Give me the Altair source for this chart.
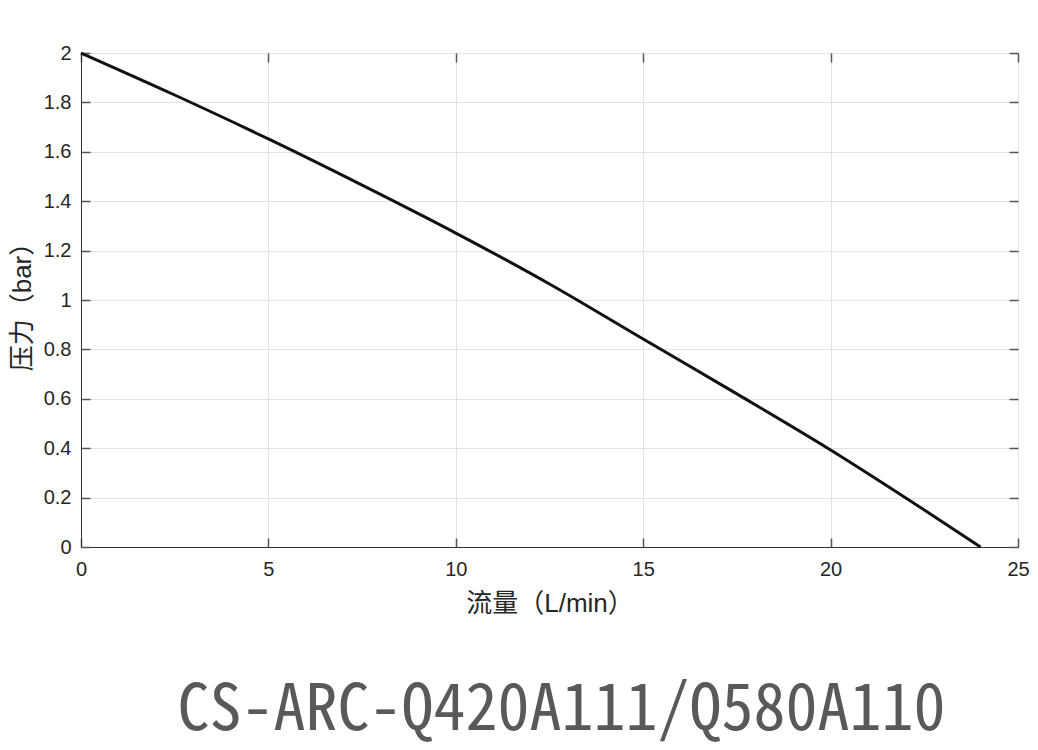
import altair as alt
import pandas as pd

flow = [0, 2.5, 5, 7.5, 10, 12.5, 15, 17.5, 20, 22.5, 24]
pressure = [2.0, 1.83, 1.652, 1.465, 1.271, 1.065, 0.842, 0.62, 0.393, 0.15, 0.0]
x_ticks = [0, 5, 10, 15, 20, 25]
y_ticks = [0, 0.2, 0.4, 0.6, 0.8, 1, 1.2, 1.4, 1.6, 1.8, 2]

df = pd.DataFrame({"flow": flow, "pressure": pressure})

W, H = 937, 494
label_font = "Liberation Sans, Noto Sans CJK SC"

axis_main = dict(
    grid=True, gridColor="#e3e3e3", domainColor="#333333",
    ticks=False, labelFontSize=20, titleFontSize=26, labelColor="#262626",
    titleColor="#262626", titleFontWeight="normal", labelFlush=False,
    labelFont=label_font, titleFont=label_font,
)
axis_tick = dict(
    grid=False, domain=False, labels=False, title=None,
    ticks=True, tickSize=9, tickColor="#555555", tickWidth=1.5,
)

xs = alt.Scale(domain=[0, 25], nice=False, zero=False)
ys = alt.Scale(domain=[0, 2], nice=False, zero=False)

base = alt.Chart(df)

main = base.mark_line(color="#111111", strokeWidth=3, interpolate="monotone").encode(
    x=alt.X("flow:Q", scale=xs,
            axis=alt.Axis(title="流量（L/min）", values=x_ticks,
                          labelPadding=12, titlePadding=11, **axis_main)),
    y=alt.Y("pressure:Q", scale=ys,
            axis=alt.Axis(title="压力（bar）", values=y_ticks,
                          format="~g", labelPadding=10, titlePadding=8, **axis_main)),
)

# inward ticks at bottom and left edges
ticks_a = base.mark_line(opacity=0).encode(
    x=alt.X("flow:Q", scale=xs,
            axis=alt.Axis(orient="top", offset=-H, values=x_ticks, **axis_tick)),
    y=alt.Y("pressure:Q", scale=ys,
            axis=alt.Axis(orient="right", offset=-W, values=y_ticks, **axis_tick)),
)

# inward ticks at top and right edges
ticks_b = base.mark_line(opacity=0).encode(
    x=alt.X("flow:Q", scale=xs,
            axis=alt.Axis(orient="bottom", offset=-H, values=x_ticks, **axis_tick)),
    y=alt.Y("pressure:Q", scale=ys,
            axis=alt.Axis(orient="left", offset=-W, values=y_ticks, **axis_tick)),
)

chart = alt.layer(main, ticks_a, ticks_b).resolve_axis(
    x="independent", y="independent"
).properties(
    width=W,
    height=H,
    title=alt.TitleParams(
        text="CS-ARC-Q420A111/Q580A110",
        orient="bottom",
        anchor="middle",
        offset=63,
        dx=12,
        fontSize=64,
        font="Noto Sans Mono CJK SC, DejaVu Sans Mono",
        fontWeight=300,
        color="#595959",
    ),
    autosize=alt.AutoSizeParams(type="none"),
    padding={"left": 73, "top": 45, "right": 12, "bottom": 210},
).configure_view(
    stroke="#333333", strokeWidth=1
)

chart.save("out.html", embed_options={"renderer": "svg", "actions": False})
